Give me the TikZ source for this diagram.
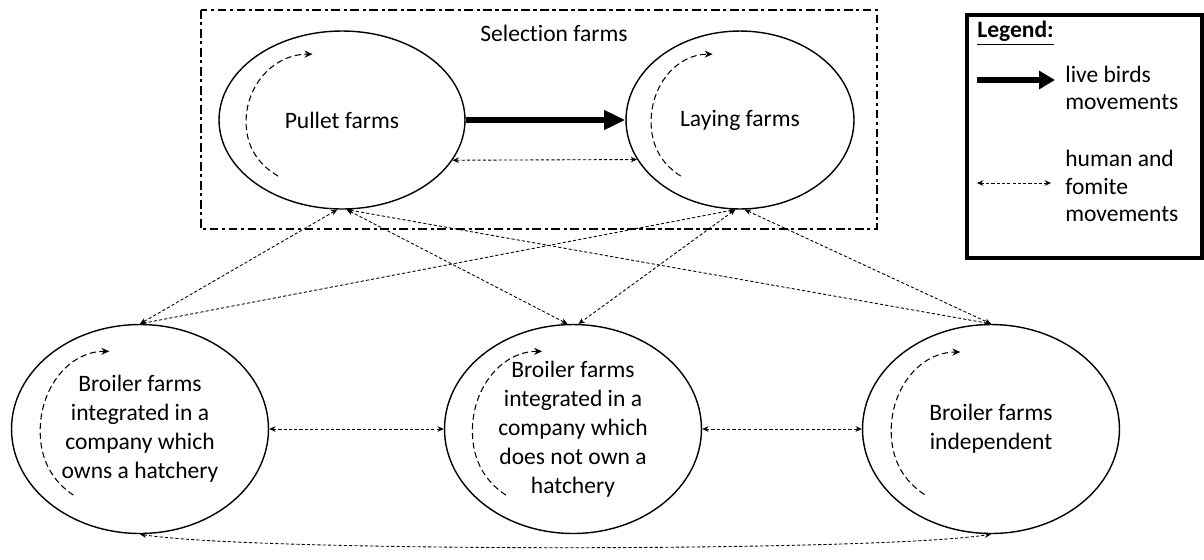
\documentclass[tikz,border=0pt]{standalone}
\usepackage{fontspec}
\setmainfont{Carlito}[Ligatures=NoCommon]
\usetikzlibrary{shapes.geometric,arrows.meta}

\begin{document}
\begin{tikzpicture}[
  x=0.02cm,
  y=-0.02cm,
  font=\fontsize{13.4pt}{16.5pt}\selectfont,
  farm/.style={draw, ellipse, line width=0.8pt, inner sep=0pt, align=center},
  topfarm/.style={farm, minimum height=3.56cm},
  botfarm/.style={farm, minimum width=5.14cm, minimum height=4.18cm},
  live/.style={line width=3.8pt, -{Triangle[length=12pt, width=10.5pt]}},
  fomite/.style={line width=0.5pt, dash pattern=on 1.8pt off 1.2pt,
    {Stealth[length=3.6pt, width=3.2pt]}-{Stealth[length=3.6pt, width=3.2pt]}},
  withinmove/.style={line width=0.6pt, dash pattern=on 3.5pt off 2pt,
    -{Stealth[length=4.5pt, width=4pt]}},
  selbox/.style={draw, line width=0.9pt, dash pattern=on 5pt off 2pt on 1.8pt off 2pt},
  legtxt/.style={anchor=west, inner sep=0pt, align=left,
    font=\fontsize{13.4pt}{15.5pt}\selectfont},
]
  % pixel grid of the figure, y going down
  \def\yTop{120}
  \def\yBot{429}
  \useasboundingbox (0,0) rectangle (1204,559);

  % Selection farms
  \draw[selbox] (201,10) rectangle (877,229);
  \node (seltitle) at (554,33) {Selection farms};
  \node[topfarm, minimum width=4.92cm] (pullet) at (342,\yTop) {Pullet farms};
  \node[topfarm, minimum width=4.56cm] (laying) at (740,\yTop) {Laying farms};

  % Broiler farms
  \node[botfarm] (own)   at (140,\yBot) {Broiler farms\\integrated in a\\company which\\owns a hatchery};
  \node[botfarm] (noown) at (573,\yBot) {Broiler farms\\integrated in a\\company which\\does not own a\\hatchery};
  \node[botfarm] (indep) at (991,\yBot) {Broiler farms\\independent};

  % movements inside each farm type
  \foreach \n/\rx/\ry in {pullet/123/89, laying/114/89, own/128/105, noown/129/105, indep/128/104} {
    \begin{scope}[shift={(\n.center)}, xscale=\rx, yscale=\ry]
      \draw[withinmove] (-0.52,0.63) .. controls (-0.68,0.50) and (-0.78,0.30) .. (-0.78,0.02)
        .. controls (-0.78,-0.40) and (-0.55,-0.74) .. (-0.24,-0.74);
    \end{scope}
  }

  % live birds
  \draw[live] (pullet.east) -- (laying.west);

  % human and fomite
  \draw[fomite] (pullet.-20) -- (laying.-159);
  \draw[fomite] (pullet.-93) -- (own.north);
  \draw[fomite] (pullet.-87) -- (noown.93);
  \draw[fomite] (pullet.-87) -- (indep.north);
  \draw[fomite] (laying.-93) -- (own.north);
  \draw[fomite] (laying.-93) -- (noown.87);
  \draw[fomite] (laying.-87) -- (indep.north);
  \draw[fomite] (own.east) -- (noown.west);
  \draw[fomite] (noown.east) -- (indep.west);
  \draw[fomite] (own.south) .. controls (250,552) and (880,552) .. (indep.south);

  % Legend
  \draw[line width=1.8pt] (967,15) rectangle (1202,258);
  \node[legtxt, font=\fontsize{13.4pt}{16pt}\selectfont\bfseries] (legtitle) at (977,33) {\underline{Legend:}};
  \coordinate (liveA) at (977,80);
  \coordinate (liveB) at (1055,80);
  \draw[live, -{Triangle[length=9pt, width=10pt]}] (liveA) -- (liveB);
  \node[legtxt] (livetxt) at (1065,88) {live birds\\movements};
  \coordinate (fomA) at (977,183);
  \coordinate (fomB) at (1051,183);
  \draw[fomite] (fomA) -- (fomB);
  \node[legtxt] (fomtxt) at (1065,186) {human and\\fomite\\movements};
\end{tikzpicture}
\end{document}
